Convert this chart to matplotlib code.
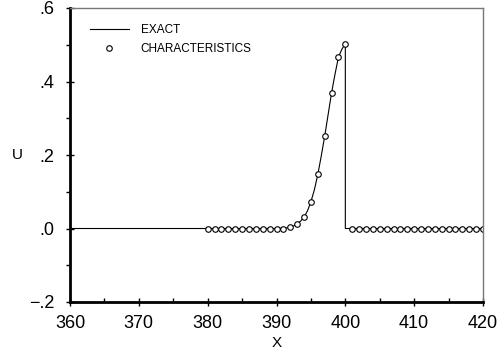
import matplotlib.pyplot as plt
from matplotlib.ticker import MultipleLocator

plt.rcParams['font.family'] = ['Liberation Sans', 'DejaVu Sans']

# exact solution, sampled along the front
x_exact = [360, 390, 390.5, 391, 391.5, 392, 392.5, 393, 393.5, 394, 394.5,
           395, 395.5, 396, 396.5, 397, 397.5, 398, 398.5, 399, 399.5,
           400, 400, 420]
u_exact = [0.0, 0.0, 0.0005, 0.001, 0.002, 0.004, 0.007, 0.013, 0.02, 0.031, 0.048,
           0.073, 0.105, 0.147, 0.197, 0.251, 0.31, 0.369, 0.42, 0.466, 0.488,
           0.503, 0.0, 0.0]

# method of characteristics, one value per grid node
x_char = list(range(380, 421))
u_char = ([0.0] * 12
          + [0.004, 0.013, 0.031, 0.073, 0.147, 0.251, 0.369, 0.466, 0.503]
          + [0.0] * 20)

yticks = [-0.2, 0.0, 0.2, 0.4, 0.6]
ytick_labels = ['\u2212.2', '.0', '.2', '.4', '.6']
xticks = [360, 370, 380, 390, 400, 410, 420]

fig = plt.figure(figsize=(5.02, 3.56), dpi=100)
ax = fig.add_axes([70 / 502, 1 - 302 / 356, 413 / 502, 294 / 356])

ax.plot(x_exact, u_exact, color='black', lw=0.8, label='EXACT')
ax.plot(x_char, u_char, ls='none', marker='o', ms=4, mfc='white',
        mec='black', mew=0.8, label='CHARACTERISTICS')

ax.set_xlim(360, 420)
ax.set_ylim(-0.2, 0.6)
ax.set_xticks(xticks)
ax.set_yticks(yticks)
ax.set_yticklabels(ytick_labels)
ax.xaxis.set_minor_locator(MultipleLocator(5))
ax.yaxis.set_minor_locator(MultipleLocator(0.1))

ax.tick_params(which='major', direction='inout', length=6, width=1,
               labelsize=13)
ax.tick_params(axis='x', which='major', pad=6)
ax.tick_params(axis='y', which='major', pad=8)
ax.tick_params(axis='x', which='minor', direction='in', length=3, width=1)
ax.tick_params(axis='y', which='minor', direction='out', length=3, width=1)

for side in ('left', 'bottom'):
    ax.spines[side].set_linewidth(2)
    ax.spines[side].set_color('black')
for side in ('top', 'right'):
    ax.spines[side].set_linewidth(1)
    ax.spines[side].set_color('#777777')

ax.set_xlabel('X', fontsize=11, va='center')
ax.set_ylabel('U', fontsize=11, rotation=0, va='center', ha='center')
ax.xaxis.set_label_coords(0.5, -0.139)
ax.yaxis.set_label_coords(-0.128, 0.5)

leg = ax.legend(loc='upper left', bbox_to_anchor=(0.037, 0.962), frameon=False,
                fontsize=8.5, handlelength=3.3, handletextpad=1.0,
                labelspacing=0.6, borderaxespad=0)

fig.savefig('out.png', dpi=100)
